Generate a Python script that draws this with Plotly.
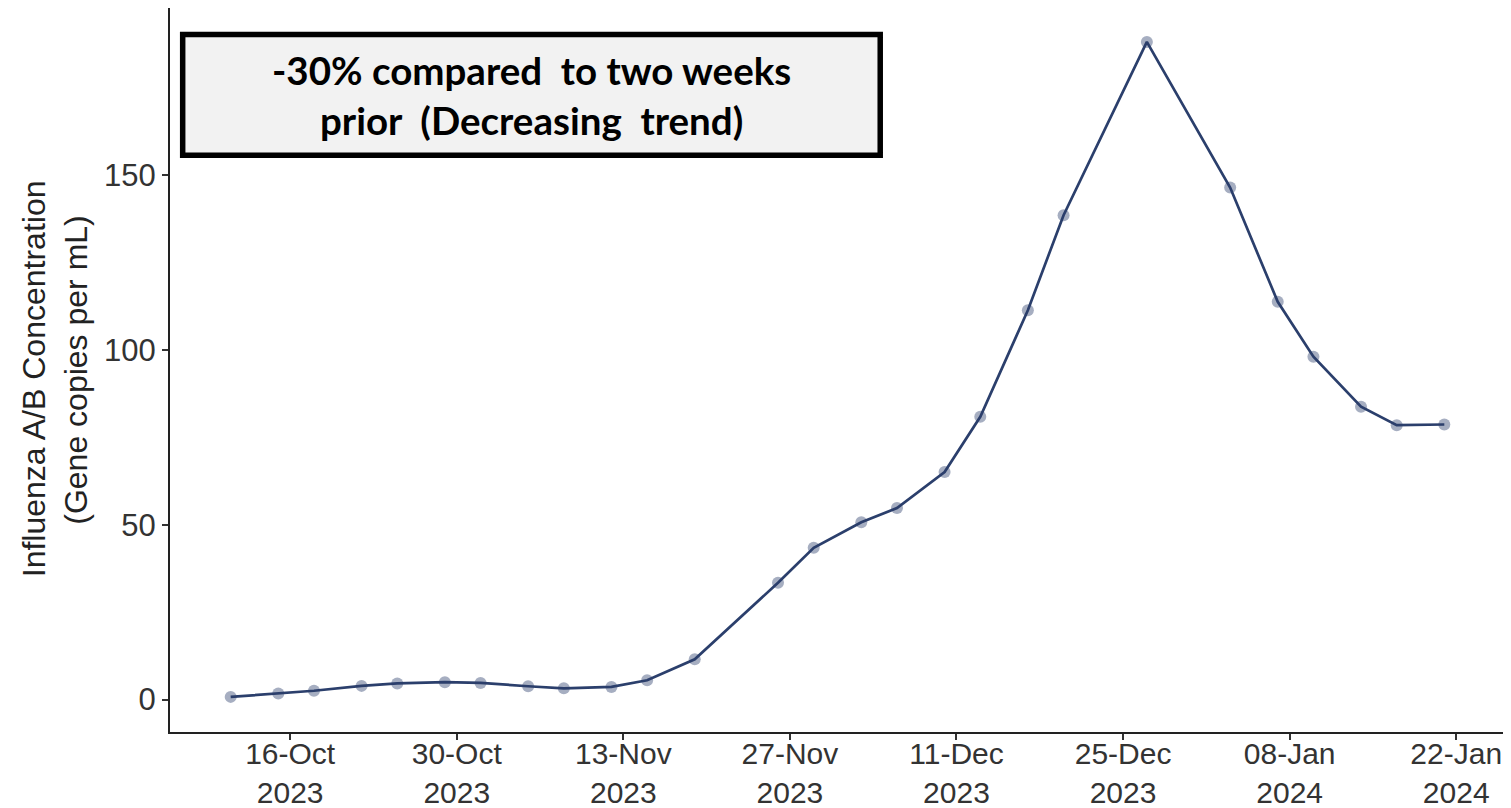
import plotly.graph_objects as go

dates = ["2023-10-11", "2023-10-15", "2023-10-18", "2023-10-22", "2023-10-25", "2023-10-29",
         "2023-11-01", "2023-11-05", "2023-11-08", "2023-11-12", "2023-11-15", "2023-11-19",
         "2023-11-26", "2023-11-29", "2023-12-03", "2023-12-06", "2023-12-10", "2023-12-13",
         "2023-12-17", "2023-12-20", "2023-12-27", "2024-01-03", "2024-01-07", "2024-01-10",
         "2024-01-14", "2024-01-17", "2024-01-21"]
concentration = [0.75, 1.7, 2.5, 3.9, 4.6, 4.95, 4.75, 3.8, 3.2, 3.6, 5.5, 11.5,
                 33.4, 43.4, 50.7, 54.8, 65.1, 80.9, 111.4, 138.6, 188.2, 146.5, 113.8, 98.1,
                 83.8, 78.5, 78.7]

x_tick_vals = ["2023-10-16", "2023-10-30", "2023-11-13", "2023-11-27", "2023-12-11",
               "2023-12-25", "2024-01-08", "2024-01-22"]
x_tick_text = ["16-Oct<br>2023", "30-Oct<br>2023", "13-Nov<br>2023", "27-Nov<br>2023",
               "11-Dec<br>2023", "25-Dec<br>2023", "08-Jan<br>2024", "22-Jan<br>2024"]
y_tick_vals = [0, 50, 100, 150]
y_tick_text = ["0", "50", "100", "150"]

y_title = "Influenza A/B Concentration\u00a0\u00a0<br>(Gene copies per mL)\u00a0\u00a0"
box_text = "-30% compared\u00a0 to two weeks<br>prior\u00a0 (Decreasing\u00a0 trend)"

line_color = "#2b3f6c"

fig = go.Figure()
fig.add_trace(go.Scatter(
    x=dates, y=concentration, mode="lines",
    line=dict(color=line_color, width=2.7),
    hoverinfo="skip", showlegend=False,
))
fig.add_trace(go.Scatter(
    x=dates, y=concentration, mode="markers",
    marker=dict(color="rgba(43,63,108,0.42)", size=12, line=dict(width=0)),
    showlegend=False,
))

fig.add_shape(type="rect", xref="paper", yref="paper",
              x0=0.0095, x1=0.532, y0=0.7965, y1=0.9634,
              fillcolor="#f2f2f2", line=dict(color="black", width=5.5), layer="above")
fig.add_annotation(xref="paper", yref="paper", x=0.2708, y=0.880,
                   text="<b>" + box_text + "</b>", showarrow=False,
                   font=dict(family="Lato", size=38.5, color="black"),
                   xanchor="center", yanchor="middle", align="center")

# page body has an 8px default margin, so the figure is 8px smaller on each axis
fig.update_layout(
    width=1503, height=800,
    margin=dict(l=162, r=6, t=0, b=76),
    paper_bgcolor="white", plot_bgcolor="white",
    font=dict(family="Liberation Sans", size=31, color="#333333"),
)
fig.update_xaxes(
    range=["2023-10-05 21:36", "2024-01-26 02:24"],
    tickmode="array", tickvals=x_tick_vals, ticktext=x_tick_text,
    showgrid=False, zeroline=False, automargin=False,
    showline=True, linecolor="#222222", linewidth=2,
    ticks="outside", ticklen=6, tickwidth=1.5, tickcolor="#333333",
    tickfont=dict(size=30, color="#333333"), ticklabelstandoff=-12,
)
fig.update_yaxes(
    range=[-9.3, 197.9],
    tickmode="array", tickvals=y_tick_vals, ticktext=y_tick_text,
    showgrid=False, zeroline=False, automargin=False,
    showline=True, linecolor="#222222", linewidth=2,
    ticks="outside", ticklen=6, tickwidth=1.5, tickcolor="#333333",
    tickfont=dict(size=31, color="#333333"),
    title=dict(text=y_title, font=dict(size=32, color="#222222"), standoff=7),
)

fig.write_html("out.html")
